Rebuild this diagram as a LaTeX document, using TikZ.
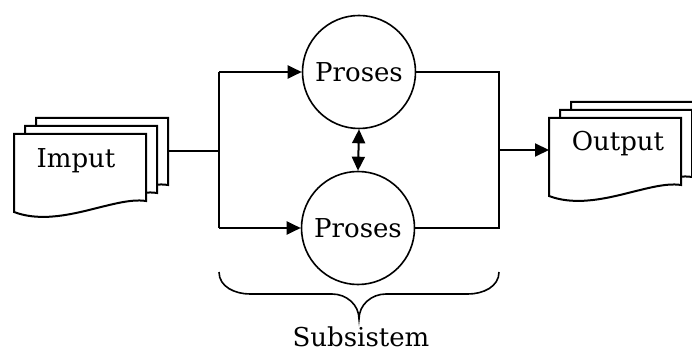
\documentclass[tikz,border=0pt]{standalone}
\usepackage{fontspec}
\setmainfont{DejaVu Serif}
\usetikzlibrary{arrows.meta}
\begin{document}
\begin{tikzpicture}[x=1pt,y=-1pt,
  line width=2pt,
  label/.style={font=\fontsize{26}{29}\selectfont, inner sep=0pt},
  proc/.style={circle, draw, line width=1.6pt, minimum size=113pt, inner sep=0pt,
               font=\fontsize{26}{29}\selectfont},
  tip/.tip={Triangle[length=14pt,width=13pt]},
  flow/.style={-tip},
  biflow/.style={tip-tip},
  pics/docpage/.style={code={
    \draw[fill=white, line width=2pt] (0,0) -- (132,0) -- (132,67)
      .. controls (100,62) and (45,95) .. (0,78) -- cycle;}}]
\useasboundingbox (0,0) rectangle (692,352);
\clip (0,0) rectangle (692,352);

% input stack of pages
\pic at (36,118) {docpage};
\pic at (25,126) {docpage};
\pic at (14,134) {docpage};
\node[label] (imput) at (76,161) {Imput};
\coordinate (inout) at (168,151);

% output stack of pages
\pic at (571,102) {docpage};
\pic at (560,110) {docpage};
\pic at (549,118) {docpage};
\node[label] (output) at (618,144) {Output};
\coordinate (outin) at (549,150);

% processes
\node[proc] (p1) at (359,72) {Proses};
\node[proc] (p2) at (358,228) {Proses};

% junctions
\coordinate (split) at (219,151);
\coordinate (splitT) at (219,72);
\coordinate (splitB) at (219,228);
\coordinate (joinT) at (499,72);
\coordinate (joinB) at (499,228);
\coordinate (join) at (499,150);

\draw (inout) -- (split);
\draw (splitT) -- (splitB);
\draw[flow] (splitT) -- (p1.west);
\draw[flow] (splitB) -- (p2.west);
\draw[biflow] (p1.south) -- (p2.north);
\draw (p1.east) -- (joinT) -- (joinB) -- (p2.east);
\draw[flow] (join) -- (outin);

% brace under the subsystem
\coordinate (brL) at (219,272);
\coordinate (brR) at (499,272);
\coordinate (brTip) at (359,319);
\draw[line width=1.6pt] (brL) to[out=-90,in=180] (250,294) -- (332,294)
  to[out=0,in=90] (brTip) to[out=90,in=180] (386,294) -- (468,294)
  to[out=0,in=-90] (brR);
\node[label, anchor=base] (sub) at (361,346) {Subsistem};
\end{tikzpicture}
\end{document}
